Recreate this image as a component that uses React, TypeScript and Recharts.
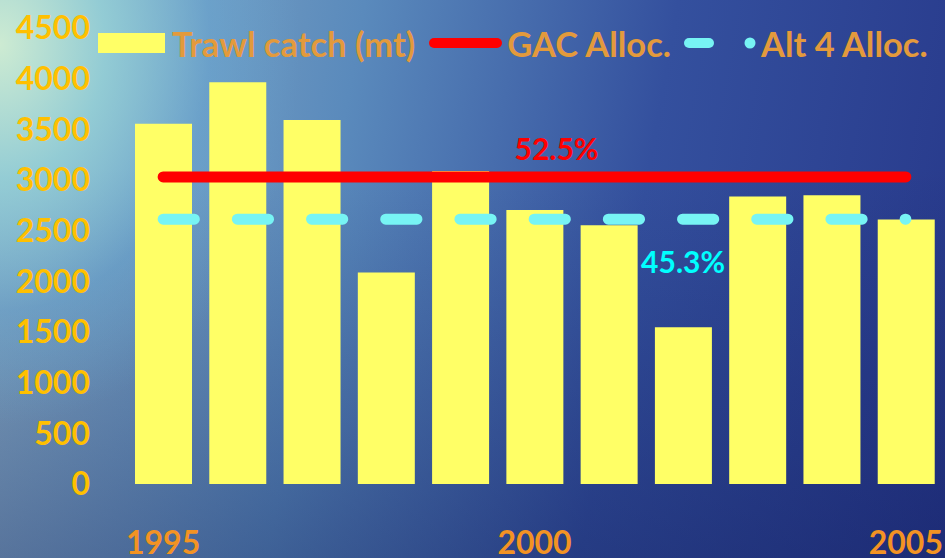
import React from "react";
import { ComposedChart, Bar, Line, XAxis, YAxis } from "recharts";

const years = ["1995", "1996", "1997", "1998", "1999", "2000", "2001", "2002", "2003", "2004", "2005"];
const trawlCatch = [3554, 3965, 3593, 2086, 3090, 2705, 2554, 1547, 2836, 2850, 2609];
const gacAlloc = [3030, 3030, 3030, 3030, 3030, 3030, 3030, 3030, 3030, 3030, 3030];
const alt4Alloc = [2613, 2613, 2613, 2613, 2613, 2613, 2613, 2613, 2613, 2613, 2613];
const yTicks = [0, 500, 1000, 1500, 2000, 2500, 3000, 3500, 4000, 4500];
const legendNames = ["Trawl catch (mt)", "GAC Alloc.", "Alt 4 Alloc."];
const pctLabels = ["52.5%", "45.3%"];

const data = years.map((y, i) => ({ year: y, trawl: trawlCatch[i], gac: gacAlloc[i], alt4: alt4Alloc[i] }));

const FONT = "Lato, 'Open Sans', sans-serif";

const LegendBlock = () => (
  <div
    style={{
      position: "absolute",
      left: 98,
      top: 22,
      height: 42,
      display: "flex",
      alignItems: "center",
      fontFamily: FONT,
      fontWeight: 700,
      fontSize: 34.5,
      color: "#E39A3C",
      whiteSpace: "nowrap",
    }}
  >
    <div style={{ width: 67, height: 20, background: "#FFFF66", marginRight: 7 }} />
    <span>{legendNames[0]}</span>
    <svg width={92} height={20}>
      <line x1={19} y1={10} x2={82} y2={10} stroke="#FF0000" strokeWidth={10} strokeLinecap="round" />
    </svg>
    <span>{legendNames[1]}</span>
    <svg width={90} height={20}>
      <line x1={18} y1={10} x2={38} y2={10} stroke="#77F4F4" strokeWidth={10} strokeLinecap="round" />
      <circle cx={79} cy={10} r={5.5} fill="#77F4F4" />
    </svg>
    <span>{legendNames[2]}</span>
  </div>
);

const redLabel = (props: any) => {
  const { x, y, index } = props;
  if (index !== 5) return null;
  return (
    <text x={x + 22} y={y - 29} textAnchor="middle" dominantBaseline="central" fill="#FF0000" fontFamily={FONT} fontWeight={700} fontSize={30}>
      {pctLabels[0]}
    </text>
  );
};

const cyanLabel = (props: any) => {
  const { x, y, index } = props;
  if (index !== 7) return null;
  return (
    <text x={x} y={y + 42} textAnchor="middle" dominantBaseline="central" fill="#00FFFF" fontFamily={FONT} fontWeight={700} fontSize={30}>
      {pctLabels[1]}
    </text>
  );
};

export default function App() {
  return (
    <div
      style={{
        position: "fixed",
        left: 0,
        top: 0,
        width: 945,
        height: 558,
        overflow: "hidden",
        background:
          "radial-gradient(ellipse 300px 380px at 0% 8%, rgba(205,235,210,1) 0%, rgba(150,210,215,0.85) 35%, rgba(100,170,215,0.4) 70%, rgba(80,140,200,0) 100%), linear-gradient(to bottom, rgba(0,0,40,0) 30%, rgba(10,20,80,0.35) 100%), linear-gradient(100deg, #8fb2c8 0%, #5a8abc 35%, #34509e 65%, #27388a 100%)",
      }}
    >
      <LegendBlock />
      <div style={{ position: "absolute", left: 0, top: 0 }}>
        <ComposedChart width={945} height={558} data={data} margin={{ top: 28, right: 2, bottom: 0, left: 0 }}>
          <XAxis
            dataKey="year"
            interval={4}
            axisLine={false}
            tickLine={false}
            tickSize={0}
            tickMargin={47}
            height={74}
            tick={{ fill: "#F39323", fontFamily: FONT, fontWeight: 700, fontSize: 32 }}
          />
          <YAxis
            domain={[0, 4500]}
            ticks={yTicks}
            interval={0}
            axisLine={false}
            tickLine={false}
            tickSize={0}
            tickMargin={36}
            width={126}
            tick={{ fill: "#FFC000", fontFamily: FONT, fontWeight: 700, fontSize: 32 }}
          />
          <Bar dataKey="trawl" fill="#FFFF66" barSize={57} isAnimationActive={false} />
          <Line dataKey="gac" stroke="#FF0000" strokeWidth={11} strokeLinecap="round" dot={false} isAnimationActive={false} label={redLabel} />
          <Line dataKey="alt4" stroke="#77F4F4" strokeWidth={11} strokeLinecap="round" strokeDasharray="31.2 43" dot={false} isAnimationActive={false} label={cyanLabel} />
        </ComposedChart>
      </div>
    </div>
  );
}
